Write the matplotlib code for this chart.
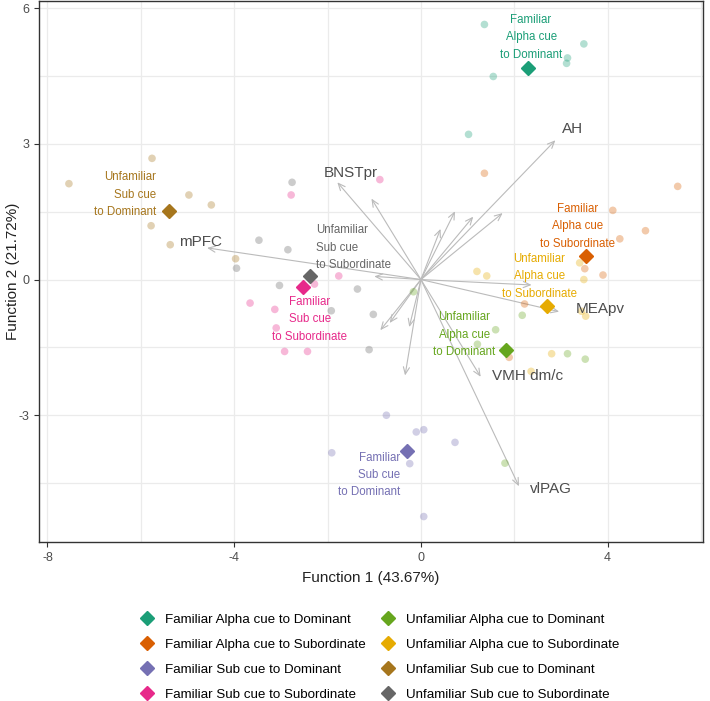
import matplotlib.pyplot as plt
import numpy as np
from matplotlib.lines import Line2D

plt.rcParams['font.family'] = ['Liberation Sans', 'DejaVu Sans']
plt.rcParams['axes.unicode_minus'] = False

groups = ["Familiar Alpha cue to Dominant", "Familiar Alpha cue to Subordinate",
          "Familiar Sub cue to Dominant", "Familiar Sub cue to Subordinate",
          "Unfamiliar Alpha cue to Dominant", "Unfamiliar Alpha cue to Subordinate",
          "Unfamiliar Sub cue to Dominant", "Unfamiliar Sub cue to Subordinate"]
colors = ["#1B9E77", "#D95F02", "#7570B3", "#E7298A",
          "#66A61E", "#E6AB02", "#A6761D", "#666666"]

# individual scores (Function 1, Function 2)
fad_x = [1.36, 3.49, 3.14, 3.12, 1.55, 1.02]
fad_y = [5.64, 5.21, 4.90, 4.78, 4.49, 3.21]
fas_x = [1.36, 5.50, 4.11, 4.81, 4.26, 3.51, 3.90, 2.22, 1.89]
fas_y = [2.35, 2.06, 1.53, 1.08, 0.90, 0.24, 0.10, -0.54, -1.72]
fsd_x = [-0.74, -0.10, 0.06, 0.73, -1.91, -0.24, 0.06]
fsd_y = [-3.00, -3.37, -3.32, -3.60, -3.83, -4.07, -5.24]
fss_x = [-0.88, -2.78, -1.76, -2.28, -3.66, -3.13, -3.10, -2.92, -2.43]
fss_y = [2.21, 1.87, 0.08, -0.10, -0.52, -0.66, -1.07, -1.59, -1.59]
uad_x = [-0.16, 1.60, 1.21, 2.17, 1.80, 3.14, 3.52]
uad_y = [-0.27, -1.11, -1.43, -0.79, -4.06, -1.64, -1.76]
uas_x = [1.20, 1.41, 3.40, 3.49, 3.53, 3.44, 2.80, 2.36]
uas_y = [0.18, 0.08, 0.37, 0.00, -0.81, -0.70, -1.64, -2.03]
usd_x = [-5.76, -7.54, -4.97, -4.49, -5.78, -5.37, -3.97]
usd_y = [2.68, 2.12, 1.87, 1.65, 1.19, 0.77, 0.46]
uss_x = [-2.76, -3.47, -2.85, -3.95, -3.03, -1.36, -1.92, -1.02, -1.11]
uss_y = [2.15, 0.87, 0.66, 0.25, -0.13, -0.21, -0.69, -0.77, -1.55]

points_x = [fad_x, fas_x, fsd_x, fss_x, uad_x, uas_x, usd_x, uss_x]
points_y = [fad_y, fas_y, fsd_y, fss_y, uad_y, uas_y, usd_y, uss_y]

# group centroids
cent_x = [2.29, 3.53, -0.29, -2.53, 1.82, 2.71, -5.39, -2.38]
cent_y = [4.68, 0.51, -3.78, -0.17, -1.56, -0.58, 1.51, 0.07]

# group label placement
lab_text = ["Familiar\nAlpha cue\nto Dominant", "Familiar\nAlpha cue\nto Subordinate",
            "Familiar\nSub cue\nto Dominant", "Familiar\nSub cue\nto Subordinate",
            "Unfamiliar\nAlpha cue\nto Dominant", "Unfamiliar\nAlpha cue\nto Subordinate",
            "Unfamiliar\nSub cue\nto Dominant", "Unfamiliar\nSub cue\nto Subordinate"]
lab_x = [2.36, 3.35, -0.45, -2.38, 0.93, 2.54, -5.68, -2.25]
lab_y = [5.36, 1.18, -4.32, -0.88, -1.22, 0.07, 1.88, 0.70]
lab_ha = ["center", "center", "right", "center", "center", "center", "right", "left"]

# loadings (arrows)
load_names = ["AH", "BNSTpr", "mPFC", "MEApv", "VMH dm/c", "vlPAG"]
load_x = [2.88, -1.79, -4.58, 2.96, 1.28, 2.10]
load_y = [3.08, 2.15, 0.70, -0.71, -2.15, -4.57]
load_lx = [3.25, -1.50, -4.73, 3.85, 2.29, 2.79]
load_ly = [3.32, 2.35, 0.83, -0.65, -2.14, -4.63]
other_x = [-1.06, 0.42, 0.73, 1.12, 1.75, 2.37, -1.00, -0.87, -0.67, -0.25, -0.34]
other_y = [1.79, 1.12, 1.51, 1.39, 1.47, -0.12, 0.07, -1.12, -0.96, -1.05, -2.12]

fig = plt.figure(figsize=(7.1, 7.01), dpi=100)
ax = fig.add_axes([0.055, 0.227, 0.935, 0.771])

for px, py, c in zip(points_x, points_y, colors):
    ax.scatter(px, py, s=30, color=c, alpha=0.33, edgecolors='none', zorder=3)

arrow_kw = dict(arrowstyle='->,head_length=0.5,head_width=0.22', color='#BBBBBB', lw=0.8,
                shrinkA=0, shrinkB=0)
for x, y in zip(list(load_x) + other_x, list(load_y) + other_y):
    ax.annotate("", xy=(x, y), xytext=(0, 0), arrowprops=arrow_kw, zorder=2)
for n, x, y in zip(load_names, load_lx, load_ly):
    ax.text(x, y, n, fontsize=11, color='#4D4D4D', ha='center', va='center', zorder=5)

for x, y, c in zip(cent_x, cent_y, colors):
    ax.plot(x, y, marker='D', markersize=7, color=c, linestyle='none', zorder=4)

for t, x, y, ha, c in zip(lab_text, lab_x, lab_y, lab_ha, colors):
    ax.text(x, y, t, fontsize=8.3, color=c, ha=ha, va='center', multialignment=ha,
            linespacing=1.6, zorder=5)

ax.set_xlim(-8.18, 6.04)
ax.set_ylim(-5.8, 6.15)
ax.set_xticks([-8, -4, 0, 4])
ax.set_yticks([-3, 0, 3, 6])
ax.set_xticks([-6, -2, 2, 6], minor=True)
ax.set_yticks([-4.5, -1.5, 1.5, 4.5], minor=True)
ax.grid(True, which='both', color='#EBEBEB', lw=0.9)
ax.set_axisbelow(True)
ax.tick_params(which='minor', length=0)
ax.tick_params(which='major', length=3.5, color='#333333', labelsize=9, labelcolor='#4D4D4D')
for sp in ax.spines.values():
    sp.set_color('#333333')
    sp.set_linewidth(1.0)
ax.set_xlabel("Function 1 (43.67%)", fontsize=11, color='#222222', labelpad=5)
ax.set_ylabel("Function 2 (21.72%)", fontsize=11, color='#222222')
ax.yaxis.set_label_coords(-0.029, 0.5)

handles = [Line2D([], [], marker='D', markersize=7, color=c, linestyle='none') for c in colors]
fig.legend(handles, groups, ncol=2,
           loc='center', bbox_to_anchor=(0.535, 0.0625), frameon=False, fontsize=9.6,
           labelspacing=0.95, columnspacing=1.1, handletextpad=0.9, handlelength=1.0)

fig.savefig("out.png", dpi=100)
